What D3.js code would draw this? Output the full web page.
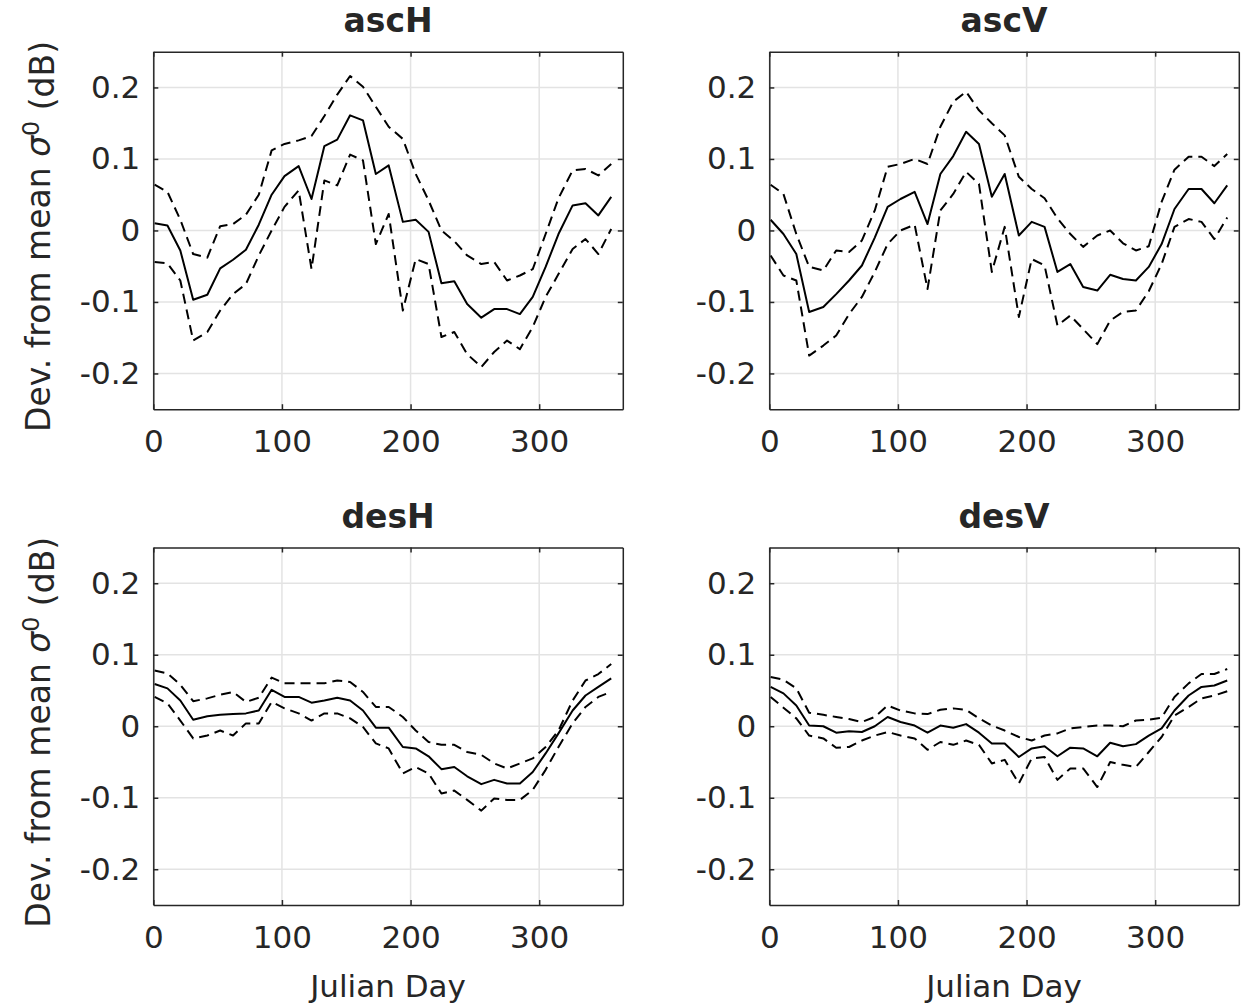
<!DOCTYPE html>
<html><head><meta charset="utf-8">
<script src="https://cdn.jsdelivr.net/npm/d3@7"></script>
<style>
html,body{margin:0;padding:0;background:#fff;}
svg text{font-family:"DejaVu Sans",sans-serif;fill:#262626;}
</style></head>
<body><svg id="chart" width="1241" height="1007"></svg>
<script>
// ---- data ----
const days = [1,11,21,31,42,52,62,72,82,92,102,113,123,133,143,153,163,173,183,194,204,214,224,234,244,255,265,275,285,295,305,315,326,336,346,356];
const panelTitles = ["ascH","ascV","desH","desV"];
const xTickValues = [0,100,200,300];
const yTickValues = [-0.2,-0.1,0,0.1,0.2];
const yTickLabels = ["-0.2","-0.1","0","0.1","0.2"];

const ascH_mean  = [0.010,0.007,-0.028,-0.097,-0.090,-0.053,-0.041,-0.027,0.008,0.050,0.076,0.090,0.044,0.118,0.127,0.161,0.154,0.079,0.091,0.012,0.015,-0.002,-0.074,-0.071,-0.103,-0.122,-0.110,-0.110,-0.117,-0.093,-0.051,-0.005,0.035,0.038,0.021,0.047];
const ascH_upper = [0.064,0.054,0.015,-0.033,-0.038,0.006,0.009,0.022,0.050,0.112,0.121,0.126,0.132,0.160,0.190,0.216,0.201,0.173,0.145,0.128,0.079,0.042,0.000,-0.015,-0.035,-0.047,-0.044,-0.070,-0.063,-0.054,-0.005,0.045,0.084,0.086,0.077,0.093];
const ascH_lower = [-0.044,-0.046,-0.070,-0.154,-0.142,-0.112,-0.089,-0.075,-0.035,0.000,0.033,0.056,-0.054,0.070,0.063,0.106,0.098,-0.019,0.023,-0.112,-0.040,-0.047,-0.149,-0.142,-0.173,-0.191,-0.170,-0.154,-0.166,-0.135,-0.093,-0.061,-0.026,-0.012,-0.033,0.002];

const ascV_mean  = [0.015,-0.005,-0.033,-0.114,-0.107,-0.089,-0.070,-0.049,-0.010,0.033,0.044,0.054,0.009,0.079,0.104,0.138,0.121,0.047,0.079,-0.007,0.012,0.005,-0.058,-0.047,-0.079,-0.084,-0.062,-0.068,-0.070,-0.051,-0.019,0.030,0.058,0.058,0.038,0.063];
const ascV_upper = [0.064,0.051,-0.005,-0.051,-0.056,-0.028,-0.030,-0.014,0.028,0.089,0.093,0.100,0.093,0.145,0.180,0.194,0.168,0.150,0.133,0.075,0.058,0.045,0.017,-0.005,-0.023,-0.007,0.000,-0.018,-0.028,-0.022,0.040,0.085,0.103,0.103,0.090,0.107];
const ascV_lower = [-0.035,-0.063,-0.070,-0.175,-0.161,-0.147,-0.117,-0.093,-0.058,-0.019,0.000,0.008,-0.082,0.028,0.051,0.082,0.065,-0.058,0.005,-0.121,-0.040,-0.049,-0.133,-0.119,-0.138,-0.159,-0.126,-0.114,-0.112,-0.085,-0.047,0.005,0.016,0.012,-0.012,0.018];

const desH_mean  = [0.059,0.053,0.036,0.009,0.014,0.016,0.017,0.018,0.022,0.051,0.041,0.041,0.033,0.036,0.040,0.036,0.022,-0.002,-0.002,-0.029,-0.031,-0.042,-0.060,-0.057,-0.070,-0.081,-0.075,-0.080,-0.080,-0.064,-0.038,-0.010,0.022,0.043,0.055,0.067];
const desH_upper = [0.078,0.074,0.058,0.035,0.039,0.044,0.048,0.034,0.040,0.068,0.060,0.060,0.060,0.060,0.064,0.062,0.048,0.027,0.027,0.013,-0.006,-0.022,-0.026,-0.026,-0.036,-0.040,-0.052,-0.059,-0.052,-0.045,-0.029,-0.006,0.036,0.064,0.073,0.087];
const desH_lower = [0.041,0.032,0.008,-0.017,-0.013,-0.006,-0.013,0.004,0.004,0.034,0.025,0.018,0.008,0.018,0.018,0.011,-0.001,-0.024,-0.031,-0.066,-0.057,-0.066,-0.094,-0.090,-0.103,-0.118,-0.101,-0.103,-0.103,-0.089,-0.061,-0.029,0.004,0.027,0.041,0.048];

const desV_mean  = [0.055,0.046,0.029,0.001,0.000,-0.009,-0.007,-0.008,0.000,0.013,0.006,0.001,-0.009,0.001,-0.002,0.003,-0.009,-0.024,-0.024,-0.043,-0.031,-0.028,-0.042,-0.030,-0.031,-0.042,-0.023,-0.028,-0.025,-0.013,-0.003,0.022,0.043,0.055,0.057,0.064];
const desV_upper = [0.069,0.065,0.053,0.019,0.016,0.013,0.010,0.006,0.013,0.029,0.022,0.018,0.017,0.023,0.025,0.023,0.011,0.001,-0.006,-0.015,-0.020,-0.013,-0.010,-0.003,-0.001,0.001,0.001,0.000,0.008,0.009,0.012,0.041,0.060,0.073,0.073,0.080];
const desV_lower = [0.041,0.026,0.011,-0.013,-0.017,-0.030,-0.029,-0.020,-0.013,-0.008,-0.013,-0.017,-0.033,-0.022,-0.026,-0.020,-0.026,-0.052,-0.047,-0.080,-0.045,-0.043,-0.075,-0.059,-0.059,-0.085,-0.050,-0.054,-0.057,-0.036,-0.015,0.015,0.027,0.039,0.043,0.049];

const panelSeries = [
  [ascH_mean, ascH_upper, ascH_lower],
  [ascV_mean, ascV_upper, ascV_lower],
  [desH_mean, desH_upper, desH_lower],
  [desV_mean, desV_upper, desV_lower]
];

// ---- layout ----
const svg = d3.select("#chart");
const W = 469.5, H = 357.5;
const origins = [[153.3,51.7],[769.3,51.7],[153.3,547.5],[769.3,547.5]];
const axisCol = "#262626", gridCol = "#e3e3e3";
const FS = 31;

panelTitles.forEach((title, i) => {
  const [ox, oy] = origins[i];
  const g = svg.append("g").attr("transform", `translate(${ox},${oy})`);
  const x = d3.scaleLinear().domain([0,365]).range([0,W]);
  const y = d3.scaleLinear().domain([-0.25,0.25]).range([H,0]);

  // grid
  g.append("g").selectAll("line").data(xTickValues).join("line")
    .attr("x1", d => x(d)).attr("x2", d => x(d)).attr("y1", 0).attr("y2", H)
    .attr("stroke", gridCol).attr("stroke-width", 1.5);
  g.append("g").selectAll("line").data(yTickValues).join("line")
    .attr("y1", d => y(d)).attr("y2", d => y(d)).attr("x1", 0).attr("x2", W)
    .attr("stroke", gridCol).attr("stroke-width", 1.5);

  // clip
  const cid = "clip" + i;
  g.append("clipPath").attr("id", cid).append("rect").attr("width", W).attr("height", H);

  const line = d3.line().x((d, j) => x(days[j])).y(d => y(d));
  const [m, u, l] = panelSeries[i];
  const lg = g.append("g").attr("clip-path", `url(#${cid})`);
  [u, l].forEach(s => lg.append("path").datum(s).attr("d", line)
    .attr("fill", "none").attr("stroke", "#000").attr("stroke-width", 2)
    .attr("stroke-dasharray", "10,6").attr("stroke-linejoin", "round"));
  lg.append("path").datum(m).attr("d", line)
    .attr("fill", "none").attr("stroke", "#000").attr("stroke-width", 2).attr("stroke-linejoin", "round");

  // axes (inward ticks, box)
  const tl = 5;
  const bottom = g.append("g").attr("transform", `translate(0,${H})`)
    .call(d3.axisBottom(x).tickValues(xTickValues).tickSizeInner(-tl).tickSizeOuter(0).tickPadding(21));
  const top = g.append("g").call(d3.axisTop(x).tickValues(xTickValues).tickSizeInner(-tl).tickSizeOuter(0).tickFormat(""));
  const left = g.append("g")
    .call(d3.axisLeft(y).tickValues(yTickValues).tickSizeInner(-tl).tickSizeOuter(0).tickPadding(13)
      .tickFormat((d, k) => yTickLabels[k]));
  const right = g.append("g").attr("transform", `translate(${W},0)`)
    .call(d3.axisRight(y).tickValues(yTickValues).tickSizeInner(-tl).tickSizeOuter(0).tickFormat(""));
  [bottom, top, left, right].forEach(a => {
    a.selectAll("path").attr("stroke", axisCol).attr("stroke-width", 1.5);
    a.selectAll("line").attr("stroke", axisCol).attr("stroke-width", 1.5);
    a.selectAll("text").attr("font-size", FS).attr("fill", "#262626")
      .attr("font-family", "DejaVu Sans, sans-serif");
  });
  bottom.selectAll("text").attr("dy", "0.71em");

  // title
  g.append("text").attr("x", W/2).attr("y", -20).attr("text-anchor", "middle")
    .attr("font-size", 33).attr("font-weight", "bold").attr("fill", "#000").text(title);

  // y label on left panels
  if (i % 2 === 0) {
    const t = g.append("text").attr("transform", `translate(${38-ox},${H/2 + 6}) rotate(-90)`)
      .attr("text-anchor", "middle").attr("dy", "0.35em").attr("font-size", 33);
    t.append("tspan").text("Dev. from mean ");
    t.append("tspan").attr("font-style", "italic").text("\u03c3");
    t.append("tspan").attr("dy", "-0.45em").attr("font-size", 33*0.72).text("0");
    t.append("tspan").attr("dy", "0.45em").text(" (dB)");
  }
  // x label on bottom panels
  if (i >= 2) {
    g.append("text").attr("x", W/2).attr("y", H + 92).attr("text-anchor", "middle")
      .attr("font-size", FS).text("Julian Day");
  }
});
</script></body></html>
